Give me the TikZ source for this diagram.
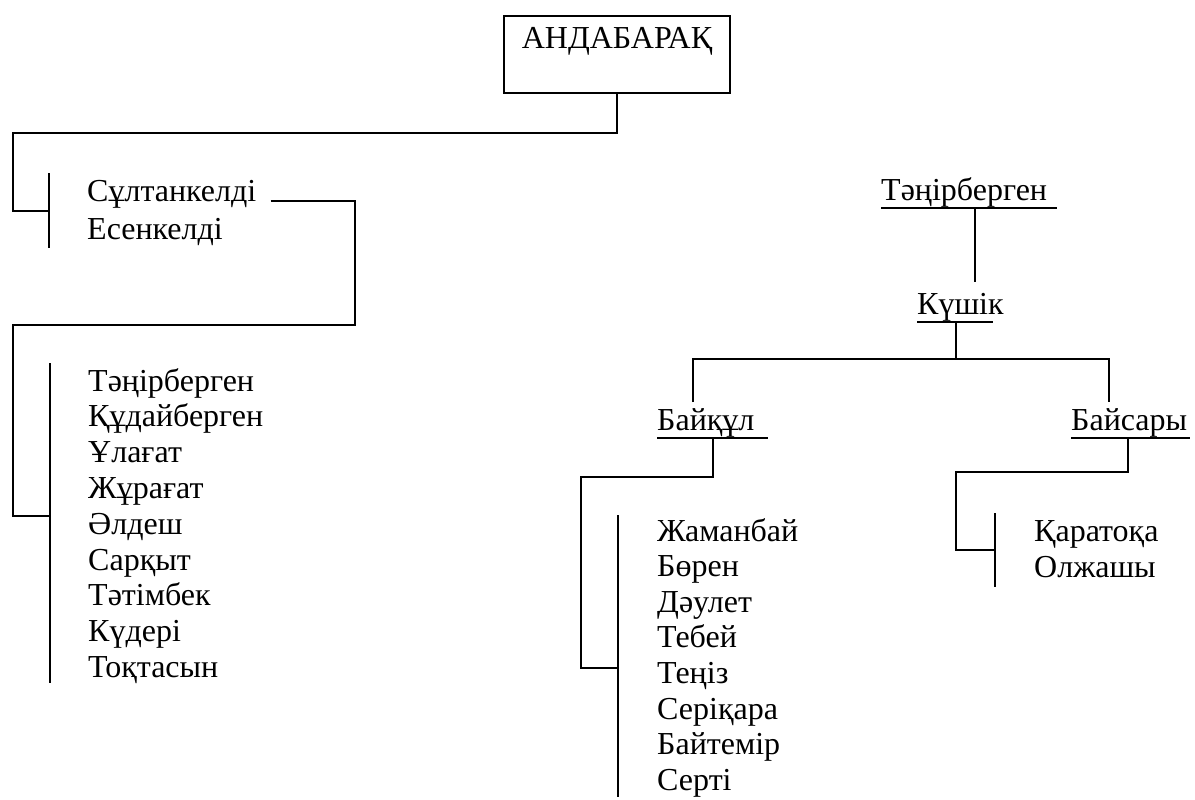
\documentclass[tikz,border=0pt]{standalone}
\usepackage{fontspec}
\setmainfont{Liberation Serif}
\begin{document}
\begin{tikzpicture}[x=1pt,y=-1pt,
  conn/.style={line width=1.8pt},
  txt/.style={anchor=base west, inner sep=0pt, font=\fontsize{32}{36}\selectfont},
  rootbox/.style={draw, line width=2.2pt, anchor=north, minimum width=226pt, inner ysep=0pt,
    text height=32pt, text depth=45pt, align=center, font=\fontsize{32}{36}\selectfont}]
\useasboundingbox (0,0) rectangle (1195,800);

% root
\node[rootbox] (root) at (617,15) {АНДАБАРАҚ};

% first generation
\node[txt] (sult) at (87,201) {Сұлтанкелді};
\node[txt] (esen) at (87,239) {Есенкелді};
\coordinate (b1top) at (49,173);
\coordinate (b1bot) at (49,248);
\coordinate (b1j) at (49,211);
\draw[conn] (b1top) -- (b1bot);
\draw[conn] (root.south) |- (13,133) |- (b1j);

% second generation (left list)
\coordinate (b2top) at (50,363);
\coordinate (b2bot) at (50,683);
\coordinate (b2j) at (50,516);
\draw[conn] (b2top) -- (b2bot);
\draw[conn] ([xshift=14pt]sult.base east) -| (355,325) -| (13,516) -- (b2j);
\foreach \name [count=\i from 0] in {Тәңірберген,Құдайберген,Ұлағат,Жұрағат,Әлдеш,Сарқыт,Тәтімбек,Күдері,Тоқтасын}
  \node[txt] (l\i) at (88,391+35.8*\i) {\name};

% right tree
\node[txt] (tb) at (881,200) {Тәңірберген};
\coordinate (tbL) at (881,208);
\coordinate (tbR) at (1057,208);
\draw[conn] (tbL) -- (tbR);

\node[txt] (kush) at (917,314) {Күшік};
\coordinate (kuL) at (917,322);
\coordinate (kuR) at (993,322);
\draw[conn] (kuL) -- (kuR);
\draw[conn] (975,208) -- (975,282);

\coordinate (hL) at (693,359);
\coordinate (hR) at (1109,359);
\draw[conn] (956,322) -- (956,359);
\draw[conn] (693,402) -- (hL) -- (hR) -- (1109,402);

\node[txt] (baik) at (657,430) {Байқұл};
\coordinate (bkL) at (657,438);
\coordinate (bkR) at (768,438);
\draw[conn] (bkL) -- (bkR);

\node[txt] (bais) at (1071,430) {Байсары};
\coordinate (bsL) at (1071,438);
\coordinate (bsR) at (1190,438);
\draw[conn] (bsL) -- (bsR);

% Baiqul children
\coordinate (b3top) at (618,515);
\coordinate (b3bot) at (618,797);
\coordinate (b3j) at (618,668);
\draw[conn] (b3top) -- (b3bot);
\draw[conn] (713,438) |- (581,477) |- (b3j);
\foreach \name [count=\i from 0] in {Жаманбай,Бөрен,Дәулет,Тебей,Теңіз,Серіқара,Байтемір,Серті}
  \node[txt] (r\i) at (657,541+35.6*\i) {\name};

% Baisary children
\coordinate (b4top) at (995,513);
\coordinate (b4bot) at (995,587);
\coordinate (b4j) at (995,550);
\draw[conn] (b4top) -- (b4bot);
\draw[conn] (1128,438) |- (956,472) |- (b4j);
\node[txt] (qar) at (1034,541) {Қаратоқа};
\node[txt] (olj) at (1034,577) {Олжашы};
\end{tikzpicture}
\end{document}
